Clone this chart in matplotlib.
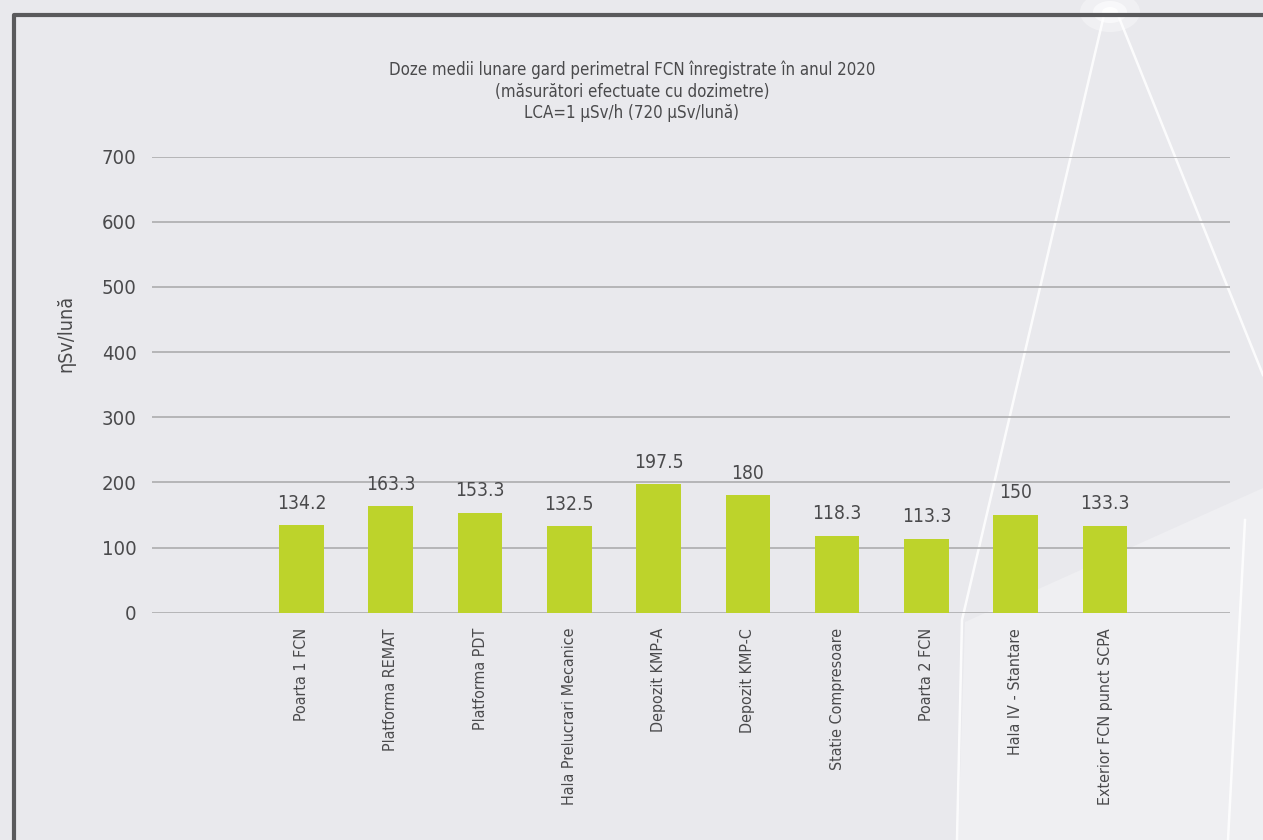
import matplotlib
matplotlib.use("Agg")
import matplotlib.pyplot as plt
from matplotlib import font_manager as fm
from matplotlib.lines import Line2D
from matplotlib.patches import Polygon, Ellipse

categories = ["Poarta 1 FCN", "Platforma REMAT", "Platforma PDT", "Hala Prelucrari Mecanice",
              "Depozit KMP-A", "Depozit KMP-C", "Statie Compresoare", "Poarta 2 FCN",
              "Hala IV - Stantare", "Exterior FCN punct SCPA"]
values = [134.2, 163.3, 153.3, 132.5, 197.5, 180, 118.3, 113.3, 150, 133.3]
value_labels = ["134.2", "163.3", "153.3", "132.5", "197.5", "180", "118.3", "113.3", "150", "133.3"]
yticks = [0, 100, 200, 300, 400, 500, 600, 700]
title_lines = ["Doze medii lunare gard perimetral FCN înregistrate în anul 2020",
               "(măsurători efectuate cu dozimetre)",
               "LCA=1 µSv/h (720 µSv/lună)"]
ylabel = "ηSv/lună"


# pick a narrow font if one is installed
def pick_font():
    regular = [f for f in fm.fontManager.ttflist
               if f.style == "normal" and str(f.weight) in ("400", "normal", "regular", "book")]
    wanted = [("Liberation Sans Narrow", None), ("Noto Sans", "condensed"),
              ("Noto Sans", "semi-condensed"), ("DejaVu Sans", "condensed"),
              ("Roboto", "condensed"), ("Open Sans", "condensed")]
    for name, stretch in wanted:
        for f in regular:
            if f.name == name and (stretch is None or f.stretch == stretch):
                return f.fname
    return None


fname = pick_font()
def font(size):
    if fname:
        return fm.FontProperties(fname=fname, size=size)
    return fm.FontProperties(family="DejaVu Sans", size=size)


W, H = 1263, 840
bg = "#e9e9ed"
txt = "#4a4a4c"
bar_color = "#bdd32b"

fig = plt.figure(figsize=(W / 100, H / 100), dpi=100, facecolor=bg)
renderer = fig.canvas.get_renderer()


# font size that gives a string roughly the width it has in the reference
def fit(s, px_width):
    w, _, _ = renderer.get_text_width_height_descent(s, font(10), ismath=False)
    return 10 * px_width / w


tick_size = fit("700", 35)
value_size = fit("134.2", 44) * 1.12
cat_size = fit("Exterior FCN punct SCPA", 178)
title_size = fit(title_lines[0], 459) * 1.06
ylab_size = fit(ylabel, 77)


def px(x, y):
    return (x / W, 1 - y / H)


# background decoration
fig.patches.append(Polygon([px(965, 622), px(1263, 488), px(1263, 840), px(958, 840)],
                           closed=True, transform=fig.transFigure, facecolor="#efeff2",
                           edgecolor="none", zorder=-3))
for pts in ([(1104, 15), (962, 620), (957, 840)],
            [(1118, 15), (1263, 375)],
            [(1245, 520), (1228, 840)]):
    xs = [p[0] / W for p in pts]
    ys = [1 - p[1] / H for p in pts]
    fig.lines.append(Line2D(xs, ys, transform=fig.transFigure, color="white", lw=1.8,
                            alpha=0.85, zorder=-1))
for w_, h_, a_ in ((60, 40, 0.35), (34, 22, 0.6), (16, 10, 0.9)):
    fig.patches.append(Ellipse(px(1110, 12), w_ / W, h_ / H, transform=fig.transFigure,
                               facecolor="white", edgecolor="none", alpha=a_, zorder=-2))

# dark frame
fig.lines.append(Line2D([14 / W, 14 / W, 1.0], [0.0, 1 - 15 / H, 1 - 15 / H],
                        transform=fig.transFigure, color="#5a5a5c", lw=3, zorder=1))

ax = fig.add_axes([152 / W, 1 - 612.7 / H, (1230 - 152) / W, (612.7 - 156.7) / H])
ax.set_facecolor("none")
x = list(range(len(categories)))
ax.bar(x, values, width=0.5, color=bar_color, zorder=3)
for xi, v, lab in zip(x, values, value_labels):
    ax.annotate(lab, (xi, v), xytext=(0, 9), textcoords="offset points",
                ha="center", va="bottom", fontproperties=font(value_size), color=txt)

ax.set_ylim(0, 700)
ax.set_xlim(-1.674, 10.4)
ax.set_yticks(yticks)
ax.set_yticklabels([str(t) for t in yticks], fontproperties=font(tick_size))
ax.grid(axis="y", color="#acacae", lw=1.2, zorder=1)
ax.set_axisbelow(True)
for s in ax.spines.values():
    s.set_visible(False)
ax.tick_params(axis="y", length=0, pad=11, labelcolor=txt)
ax.set_xticks(x)
ax.set_xticklabels(categories, rotation=90, color=txt, fontproperties=font(cat_size))
ax.tick_params(axis="x", length=0, pad=11)

fig.text(66 / W, 1 - 333 / H, ylabel, rotation=90, ha="center", va="center",
         fontproperties=font(ylab_size), color=txt)

for line, yc in zip(title_lines, (70, 92, 113)):
    fig.text(632 / W, 1 - yc / H, line, ha="center", va="center",
             fontproperties=font(title_size), color=txt)

fig.savefig("out.png", dpi=100, facecolor=bg)
